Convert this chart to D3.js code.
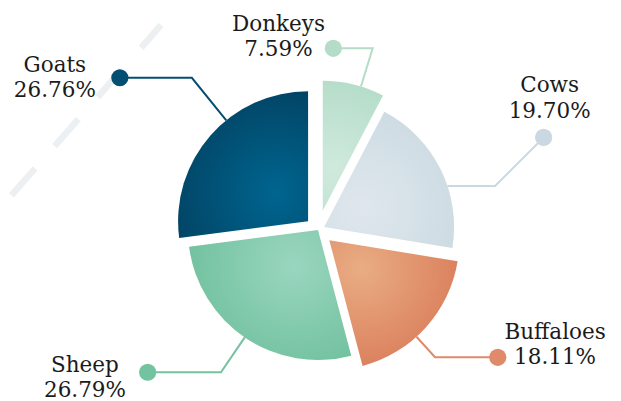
<!DOCTYPE html>
<html>
<head>
<meta charset="utf-8">
<script src="https://cdn.jsdelivr.net/npm/d3@7"></script>
<style>
  html, body { margin: 0; padding: 0; background: #ffffff; }
  svg { display: block; }
</style>
</head>
<body>
<svg id="chart" width="621" height="401"></svg>
<script>
// Livestock shares
const categories = ["Donkeys", "Cows", "Buffaloes", "Sheep", "Goats"];
const shares = [7.59, 19.70, 18.11, 26.79, 26.76];

// Slice colours: light tone near the middle, deeper tone at the rim
const innerTone = ["#d0eadd", "#dfe7ed", "#e9ad83", "#9ad6bf", "#00658f"];
const outerTone = ["#a6d5bf", "#c6d6df", "#d56e4e", "#66bb96", "#023a58"];
const markerTone = ["#b4dcc9", "#c9d8e1", "#df8a69", "#74c3a0", "#034f72"];

// How far each slice is pulled away from the centre (px)
const pullOut = [19.8, 6.8, 15.3, 0, 13.2];

// Leader lines: rim angle (deg, clockwise from 12 o'clock), then two legs [length, direction]
const leaderAt = [17.1, 71.6, 137.9, 214.3, 321.0];
const firstLeg = [[40, 17.1], [47.7, 90], [27.7, 137.9], [42.2, 214.3], [54.7, 321]];
const secondLeg = [[39.4, 270], [68.6, 45], [62.7, 90], [73.3, 270], [72, 270]];
// Label text offset from the end dot: [dx of text centre, dy of first baseline]
const labelOffset = [[-54.8, -17.3], [6, -45.3], [57.3, -18.6], [-62.7, -0.5], [-65, -6.2]];

const width = 621, height = 401;
const cx = 318, cy = 230, radius = 130;
const lineHeight = 25.5;

const svg = d3.select("#chart");
const defs = svg.append("defs");

const rad = d => d * Math.PI / 180;
const polar = (deg, len) => [len * Math.sin(rad(deg)), -len * Math.cos(rad(deg))];

// Decorative dashed stroke in the upper left
svg.append("line")
  .attr("x1", 161).attr("y1", 25)
  .attr("x2", 10).attr("y2", 197)
  .attr("stroke", "#edf0f3")
  .attr("stroke-width", 6.5)
  .attr("stroke-dasharray", "36 29.5")
  .attr("stroke-dashoffset", 5.7);

const data = categories.map((name, i) => ({ name, value: shares[i], i }));

const pie = d3.pie().sort(null).value(d => d.value).startAngle(0).endAngle(2 * Math.PI);
const arc = d3.arc().innerRadius(0).outerRadius(radius);
const arcs = pie(data);

arcs.forEach(a => {
  const i = a.data.i;
  const mid = (a.startAngle + a.endAngle) / 2 * 180 / Math.PI;
  const [ox, oy] = polar(mid, pullOut[i]);
  a.sx = cx + ox;
  a.sy = cy + oy;

  const [gx, gy] = polar(mid, radius * 0.33);
  const grad = defs.append("radialGradient")
    .attr("id", "fill-" + i)
    .attr("gradientUnits", "userSpaceOnUse")
    .attr("cx", gx).attr("cy", gy).attr("fx", gx).attr("fy", gy)
    .attr("r", radius * 1.08);
  grad.append("stop").attr("offset", 0).attr("stop-color", innerTone[i]);
  grad.append("stop").attr("offset", 1).attr("stop-color", outerTone[i]);
});

const slices = svg.append("g").attr("class", "slices")
  .selectAll("g")
  .data(arcs)
  .join("g")
  .attr("transform", d => `translate(${d.sx},${d.sy})`);

slices.append("path")
  .attr("d", arc)
  .attr("fill", d => `url(#fill-${d.data.i})`);

// Leaders, dots and labels
const labels = svg.append("g").attr("class", "labels");

arcs.forEach(a => {
  const i = a.data.i;
  const [rx, ry] = polar(leaderAt[i], radius);
  const p0 = [a.sx + rx, a.sy + ry];
  const [l1x, l1y] = polar(firstLeg[i][1], firstLeg[i][0]);
  const p1 = [p0[0] + l1x, p0[1] + l1y];
  const [l2x, l2y] = polar(secondLeg[i][1], secondLeg[i][0]);
  const p2 = [p1[0] + l2x, p1[1] + l2y];

  labels.append("path")
    .attr("d", d3.line()([p0, p1, p2]))
    .attr("fill", "none")
    .attr("stroke", markerTone[i])
    .attr("stroke-width", 2);

  labels.append("circle")
    .attr("cx", p2[0]).attr("cy", p2[1])
    .attr("r", 8.6)
    .attr("fill", markerTone[i]);

  const pct = (a.data.value).toFixed(2) + "%";
  const tx = p2[0] + labelOffset[i][0];
  const t = labels.append("text")
    .attr("x", tx)
    .attr("y", p2[1] + labelOffset[i][1])
    .attr("text-anchor", "middle")
    .attr("font-family", "'DejaVu Serif', serif")
    .attr("font-size", 21.5)
    .attr("fill", "#1b1b1b");
  t.append("tspan").attr("x", tx).text(a.data.name);
  t.append("tspan").attr("x", tx).attr("dy", lineHeight).text(pct);
});
</script>
</body>
</html>
